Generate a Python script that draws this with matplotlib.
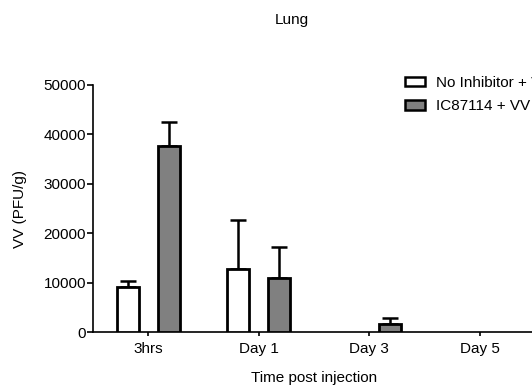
import matplotlib
matplotlib.use('Agg')
import matplotlib.pyplot as plt
import numpy as np

plt.rcParams['font.family'] = ['Liberation Sans', 'DejaVu Sans']
plt.rcParams['font.size'] = 11

# data
times = ['3hrs', 'Day 1', 'Day 3', 'Day 5']
no_inhib = [9100, 12750, 0, 0]
no_inhib_err = [1200, 9950, 0, 0]
ic87114 = [37700, 10900, 1600, 0]
ic87114_err = [4800, 6300, 1200, 0]
series = ['No Inhibitor + VV', 'IC87114 + VV']

fig = plt.figure(figsize=(5.32, 3.92), dpi=100)
ax = fig.add_axes([93/532, 60/392, 442/532, 247/392])

x = np.arange(len(times))
w = 0.2
off = 0.186
cols = ['white', '#808080']
vals = [no_inhib, ic87114]
errs = [no_inhib_err, ic87114_err]

for i, (v, e) in enumerate(zip(vals, errs)):
    xs = x + (-off if i == 0 else off)
    v = np.array(v, dtype=float)
    e = np.array(e, dtype=float)
    m = v > 0  # zero bars are not drawn in the original
    ax.bar(xs[m], v[m], width=w, color=cols[i], edgecolor='black', linewidth=2.0,
           label=series[i], zorder=3)
    ax.errorbar(xs[m], v[m], yerr=[np.zeros(m.sum()), e[m]], fmt='none',
                ecolor='black', elinewidth=1.8, capsize=6, capthick=1.8, zorder=2)

ax.set_xlim(-0.5, 3.5)
ax.set_ylim(0, 50000)
ax.set_yticks([0, 10000, 20000, 30000, 40000, 50000])
ax.set_xticks(x)
ax.set_xticklabels(times)
for s in ['top', 'right']:
    ax.spines[s].set_visible(False)
for s in ['left', 'bottom']:
    ax.spines[s].set_linewidth(1.2)
ax.tick_params(axis='y', length=4, width=1.2, pad=1)
ax.tick_params(axis='x', length=3, width=1.2, pad=4)
ax.set_ylabel('VV (PFU/g)')
ax.yaxis.set_label_coords(-66/442, 0.5)
ax.set_xlabel('Time post injection')
ax.xaxis.set_label_coords(0.5, -39/247)

fig.text(292/532, 1 - 20/392, 'Lung', ha='center', va='center')

leg = ax.legend(loc='upper left', bbox_to_anchor=(405/532, 1 - 76/392),
                bbox_transform=fig.transFigure, frameon=False, borderpad=0,
                borderaxespad=0, handlelength=1.3, handleheight=0.55,
                handletextpad=0.75, labelspacing=0.62)
for p in leg.get_patches():
    p.set_linewidth(1.8)

fig.savefig('out.png', dpi=100)
